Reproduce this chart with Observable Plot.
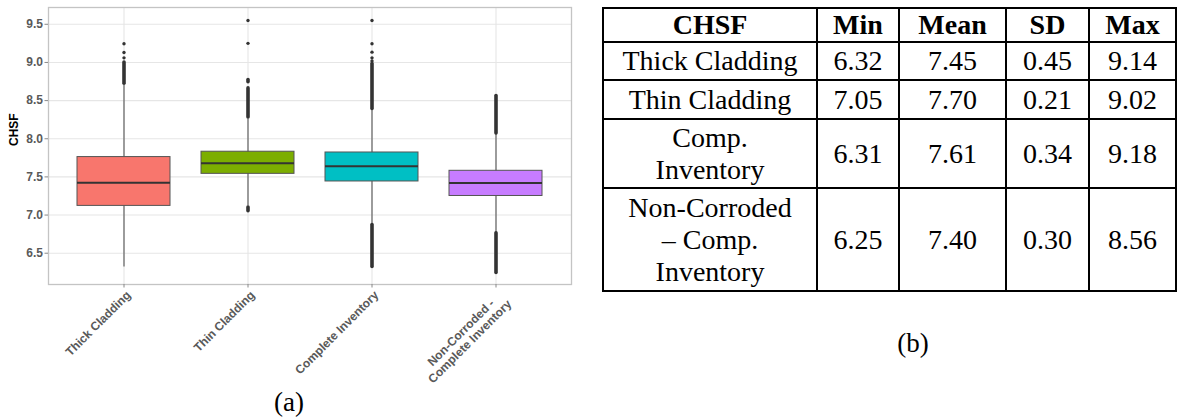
<!DOCTYPE html>
<html>
<head>
<meta charset="utf-8">
<script src="https://cdn.jsdelivr.net/npm/d3@7"></script>
<script src="https://cdn.jsdelivr.net/npm/@observablehq/plot@0.6"></script>
<style>
  html, body { margin: 0; padding: 0; background: #fff; }
  #page { position: relative; width: 1177px; height: 419px; overflow: hidden; }
  #plot { position: absolute; left: 0; top: 0; }
  .cap {
    position: absolute; font-family: "Liberation Serif", "Times New Roman", serif;
    font-size: 27px; line-height: 27px; color: #000; transform: translateX(-50%); white-space: nowrap;
  }
  #stats {
    position: absolute; left: 602px; top: 7px; width: 574px;
    border-collapse: collapse; table-layout: fixed; color: #000;
  }
  #stats td, #stats th {
    font-family: "Liberation Serif", "Times New Roman", serif; font-size: 28px; line-height: 32px;
    border: 2px solid #000; text-align: center; vertical-align: middle; padding: 0 2px;
  }
  #stats th { font-weight: bold; }
</style>
</head>
<body>
<div id="page">
  <div id="plot"></div>
  <div class="cap" style="left:289px; top:389px;">(a)</div>
  <table id="stats"></table>
  <div class="cap" style="left:913px; top:330px;">(b)</div>
</div>
<script>
// Box plot of CHSF by inventory group
const categories = ["Thick Cladding", "Thin Cladding", "Complete Inventory", "Non-Corroded -\nComplete Inventory"];
const boxColors = ["#F8766D", "#7CAE00", "#00BFC4", "#C77CFF"];
const q1 = [7.12, 7.54, 7.44, 7.25];
const median = [7.425, 7.68, 7.64, 7.42];
const q3 = [7.76, 7.83, 7.82, 7.58];
const whiskerLow = [6.32, 7.12, 6.89, 6.77];
const whiskerHigh = [8.70, 8.26, 8.38, 8.06];

// Runs of closely packed outliers (drawn as a solid column of points)
const runCategory = [0, 1, 1, 1, 2, 2, 3, 3];
const runLow = [8.72, 7.05, 8.28, 8.74, 6.32, 8.39, 6.24, 8.07];
const runHigh = [9.00, 7.10, 8.66, 8.77, 6.87, 8.98, 6.76, 8.56];

// Isolated outliers
const outlierCategory = [0, 0, 0, 1, 1, 2, 2, 2, 2, 2];
const outlierValue = [9.06, 9.13, 9.245, 9.25, 9.55, 9.02, 9.06, 9.135, 9.245, 9.55];

const yTicks = [6.5, 7.0, 7.5, 8.0, 8.5, 9.0, 9.5];

// Summary table
const tableHeader = ["CHSF", "Min", "Mean", "SD", "Max"];
const tableGroups = ["Thick Cladding", "Thin Cladding", "Comp.<br>Inventory", "Non-Corroded<br>– Comp.<br>Inventory"];
const tableMin = ["6.32", "7.05", "6.31", "6.25"];
const tableMean = ["7.45", "7.70", "7.61", "7.40"];
const tableSD = ["0.45", "0.21", "0.34", "0.30"];
const tableMax = ["9.14", "9.02", "9.18", "8.56"];

const boxes = categories.map((c, i) => ({
  cat: c, q1: q1[i], median: median[i], q3: q3[i], lo: whiskerLow[i], hi: whiskerHigh[i]
}));
const runs = runCategory.map((c, i) => ({cat: categories[c], lo: runLow[i], hi: runHigh[i]}));
const outliers = outlierCategory.map((c, i) => ({cat: categories[c], value: outlierValue[i]}));

// Category labels: rotated 45°, block right-justified at the tick, lines centred within the block
const labelFont = "bold 12px 'Liberation Sans', Arial, sans-serif";
const ctx = document.createElement("canvas").getContext("2d");
ctx.font = labelFont;
const labelWidth = (s) => d3.max(s.split("\n"), (l) => ctx.measureText(l).width);
const k = Math.SQRT1_2;
const labelMarks = categories.map((c) => {
  const half = labelWidth(c) / 2;
  return Plot.text([c], {
    x: (d) => d, frameAnchor: "bottom", rotate: -45,
    textAnchor: "middle", lineAnchor: "top", lineHeight: 1.05,
    fontSize: 12, fill: "#595959",
    dx: 1 - half * k, dy: 5 + half * k
  });
});

const chart = Plot.plot({
  width: 590,
  height: 392,
  marginLeft: 48,
  marginRight: 19,
  marginTop: 7,
  marginBottom: 108,
  style: {fontFamily: "'Liberation Sans', Arial, sans-serif", fontWeight: "bold", background: "transparent", overflow: "visible"},
  x: {type: "band", domain: categories, paddingInner: 0.25, paddingOuter: 0.225, axis: null},
  y: {domain: [6.09, 9.72], axis: null},
  color: {domain: categories, range: boxColors},
  marks: [
    Plot.gridY(yTicks, {stroke: "#e6e6e6", strokeOpacity: 1, strokeWidth: 1.1}),
    Plot.gridX({stroke: "#e6e6e6", strokeOpacity: 1, strokeWidth: 1.1}),
    Plot.frame({stroke: "#c4c4c4", strokeWidth: 1.3}),
    Plot.ruleX(boxes, {x: "cat", y1: "lo", y2: "hi", stroke: "#555", strokeWidth: 1.1}),
    Plot.ruleX(runs, {x: "cat", y1: "lo", y2: "hi", stroke: "#333", strokeWidth: 3.6, strokeLinecap: "round"}),
    Plot.barY(boxes, {x: "cat", y1: "q1", y2: "q3", fill: "cat", stroke: "#555", strokeWidth: 1}),
    Plot.tickY(boxes, {x: "cat", y: "median", stroke: "#333", strokeWidth: 2}),
    Plot.dot(outliers, {x: "cat", y: "value", r: 1.7, fill: "#333", stroke: null}),
    Plot.axisY(yTicks, {tickFormat: (d) => d.toFixed(1), tickSize: 3.5, tickPadding: 2, fontSize: 12, fill: "#595959", stroke: "#888", label: null}),
    Plot.axisX({tickSize: 3.5, tickFormat: () => "", stroke: "#888", label: null}),
    ...labelMarks,
    Plot.text(["CHSF"], {frameAnchor: "left", dx: -34, rotate: -90, fontSize: 12, fill: "#000"})
  ]
});
document.getElementById("plot").append(chart);

// Build the summary table
const table = document.getElementById("stats");
const colWidths = [214, 82, 107, 83, 87];
const rowHeights = [34, 38, 39, 69, 103];
table.innerHTML =
  "<colgroup>" + colWidths.map((w) => `<col style="width:${w}px">`).join("") + "</colgroup>" +
  `<tr style="height:${rowHeights[0]}px">` + tableHeader.map((h) => `<th>${h}</th>`).join("") + "</tr>" +
  tableGroups.map((g, i) =>
    `<tr style="height:${rowHeights[i + 1]}px"><td>${g}</td><td>${tableMin[i]}</td><td>${tableMean[i]}</td><td>${tableSD[i]}</td><td>${tableMax[i]}</td></tr>`
  ).join("");
</script>
</body>
</html>
